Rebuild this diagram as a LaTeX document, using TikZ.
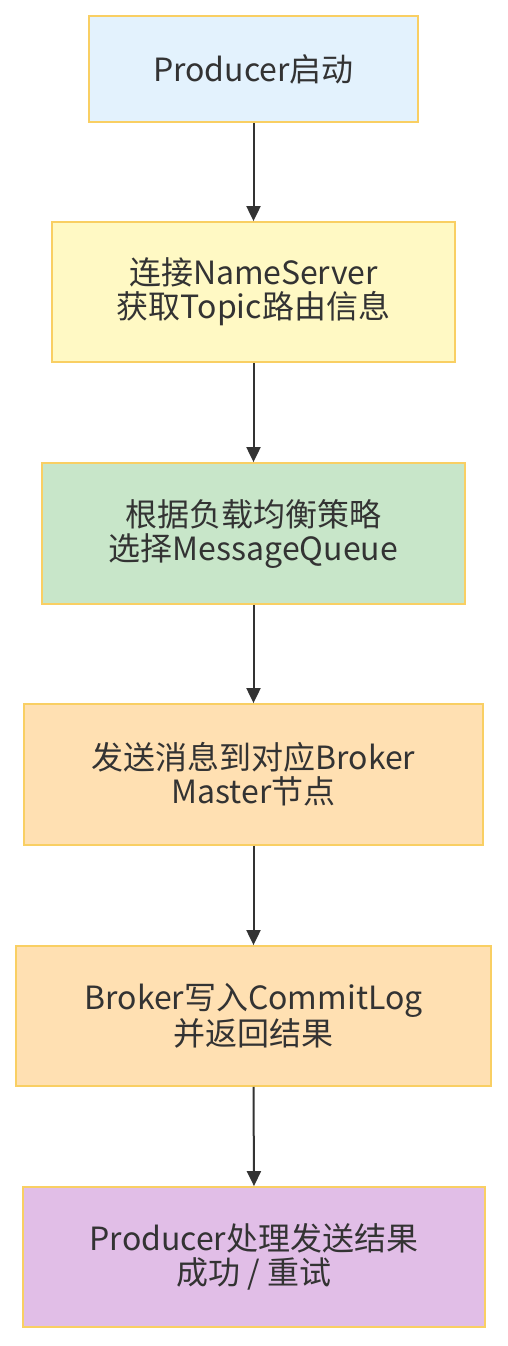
\documentclass[tikz,border=0pt]{standalone}
\usepackage{fontspec}
\setmainfont{Noto Sans CJK SC}
\usetikzlibrary{arrows.meta}
\definecolor{bordc}{HTML}{F9CF63}
\definecolor{txtc}{HTML}{333333}
\definecolor{c1}{HTML}{E3F2FD}
\definecolor{c2}{HTML}{FFF9C4}
\definecolor{c3}{HTML}{C8E6C9}
\definecolor{c4}{HTML}{FFE0B2}
\definecolor{c6}{HTML}{E1BEE7}
\tikzset{
  box/.style={draw=bordc, line width=1.8pt, text=txtc, align=center, inner sep=0pt,
    font=\fontsize{32}{34}\selectfont},
  conn/.style={draw=txtc, line width=2pt, -{Triangle[length=15pt,width=14pt]}}
}
\begin{document}
\begin{tikzpicture}[x=1pt,y=-1pt]
\useasboundingbox (0,0) rectangle (508,1346);
\node[box, fill=c1, minimum width=329pt, minimum height=106pt] (b1) at (253.5,69) {Producer启动};
\node[box, fill=c2, minimum width=403pt, minimum height=140pt] (b2) at (253.5,292) {连接NameServer\\获取Topic路由信息};
\node[box, fill=c3, minimum width=423pt, minimum height=141pt] (b3) at (253.5,533.5) {根据负载均衡策略\\选择MessageQueue};
\node[box, fill=c4, minimum width=459pt, minimum height=141pt] (b4) at (253.5,774.5) {发送消息到对应Broker\\Master节点};
\node[box, fill=c4, minimum width=475pt, minimum height=140pt] (b5) at (253.5,1016) {Broker写入CommitLog\\并返回结果};
\node[box, fill=c6, minimum width=462pt, minimum height=140pt] (b6) at (254,1257) {Producer处理发送结果\\成功 / 重试};
\draw[conn] (b1.south) -- (b2.north);
\draw[conn] (b2.south) -- (b3.north);
\draw[conn] (b3.south) -- (b4.north);
\draw[conn] (b4.south) -- (b5.north);
\draw[conn] (b5.south) -- (b6.north);
\end{tikzpicture}
\end{document}
